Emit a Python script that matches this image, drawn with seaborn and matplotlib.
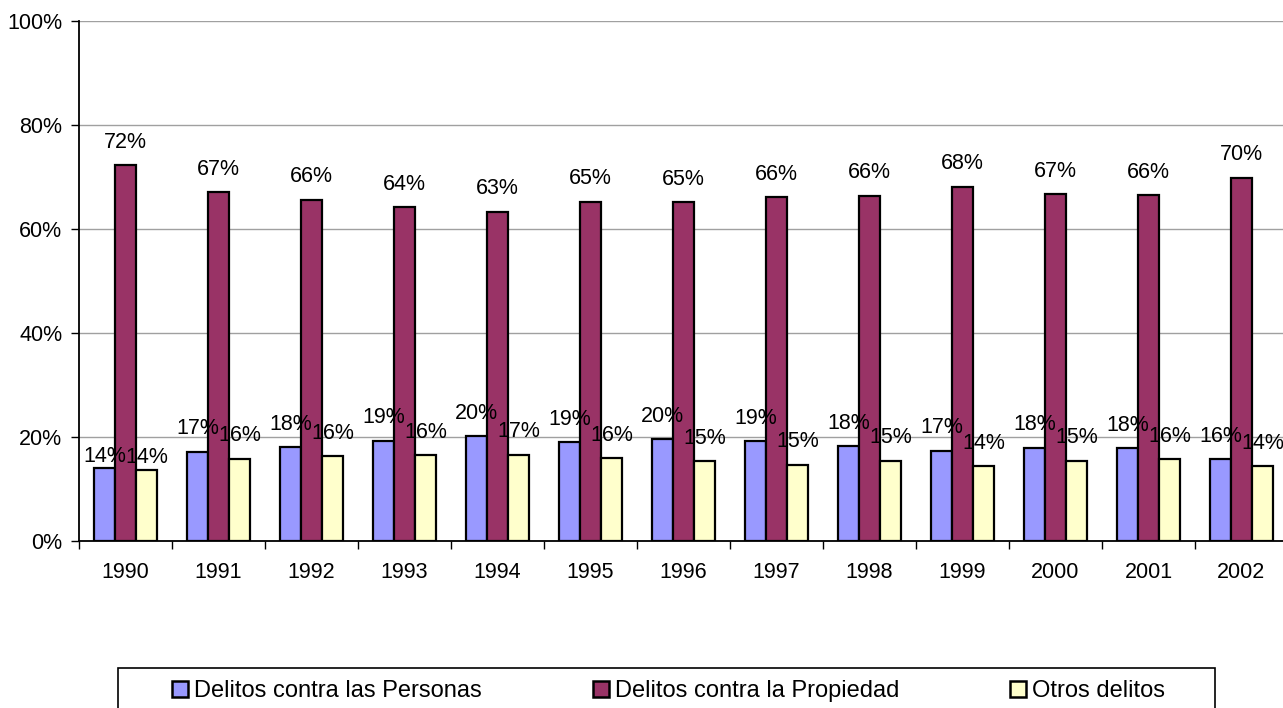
import matplotlib
matplotlib.use("Agg")
import matplotlib.pyplot as plt
import seaborn as sns
import pandas as pd
import numpy as np
from matplotlib.ticker import FixedLocator, PercentFormatter
from matplotlib.patches import Rectangle

years = ["1990", "1991", "1992", "1993", "1994", "1995", "1996",
         "1997", "1998", "1999", "2000", "2001", "2002"]
personas = [14.0, 17.2, 18.0, 19.3, 20.1, 19.0, 19.6, 19.2, 18.2, 17.4, 17.9, 17.8, 15.7]
propiedad = [72.3, 67.1, 65.6, 64.2, 63.3, 65.2, 65.1, 66.1, 66.4, 68.1, 66.7, 66.5, 69.9]
otros = [13.7, 15.8, 16.3, 16.5, 16.6, 15.9, 15.3, 14.7, 15.4, 14.4, 15.4, 15.7, 14.4]
series_names = ["Delitos contra las Personas", "Delitos contra la Propiedad", "Otros delitos"]
colors = ["#9999FF", "#993366", "#FFFFCC"]

rows = []
for name, vals in zip(series_names, [personas, propiedad, otros]):
    for y, v in zip(years, vals):
        rows.append({"Año": y, "Serie": name, "Valor": v})
df = pd.DataFrame(rows)

sns.set_theme(style="white")
plt.rcParams["font.family"] = ["Liberation Sans", "DejaVu Sans"]
plt.rcParams["text.color"] = "black"

fig = plt.figure(figsize=(12.83, 7.08), dpi=100)
ax = fig.add_axes([79 / 1283, 1 - 541 / 708, 1209 / 1283, 520 / 708])

sns.barplot(data=df, x="Año", y="Valor", hue="Serie", hue_order=series_names,
            palette=colors, width=0.68, edgecolor="black", linewidth=1.6,
            saturation=1, ax=ax, legend=True)

LBL = 15.5
for k, cont in enumerate(ax.containers):
    vals = [b.get_height() for b in cont]
    main_labels = ["" if i == 0 else f"{round(v)}%" for i, v in enumerate(vals)]
    first_labels = [f"{round(v)}%" if i == 0 else "" for i, v in enumerate(vals)]
    ax.bar_label(cont, labels=main_labels, padding=9, fontsize=LBL, color="black")
    pad_first = 9 if k == 1 else 1
    ax.bar_label(cont, labels=first_labels, padding=pad_first, fontsize=LBL,
                 color="black")

ax.set_ylim(0, 100)
ax.set_xlim(-0.5, 12.5)
ax.yaxis.set_major_locator(FixedLocator([0, 20, 40, 60, 80, 100]))
ax.yaxis.set_major_formatter(PercentFormatter(decimals=0))
ax.grid(axis="y", color="#A0A0A0", linewidth=1)
ax.set_axisbelow(True)
ax.set_xlabel("")
ax.set_ylabel("")

ax.xaxis.set_minor_locator(FixedLocator(np.arange(-0.5, 13, 1)))
ax.tick_params(axis="x", which="major", length=0, pad=15, labelsize=LBL, colors="black")
ax.tick_params(axis="x", which="minor", bottom=True, length=6, width=1, color="black")
ax.tick_params(axis="y", left=True, length=6, width=1, color="black", pad=6,
               labelsize=LBL, labelcolor="black")

for s in ["top", "right"]:
    ax.spines[s].set_visible(False)
for s in ["left", "bottom"]:
    ax.spines[s].set_color("black")
    ax.spines[s].set_linewidth(1.3)

handles, labels = ax.get_legend_handles_labels()
ax.get_legend().remove()
ytext = 1 - 691 / 708
leg = fig.legend(handles, labels, loc="center left",
                 bbox_to_anchor=(172 / 1283, ytext - 0.02, 993 / 1283, 0.04),
                 mode="expand", ncol=3, fontsize=17, frameon=False,
                 handlelength=0.68, handleheight=0.68, labelcolor="black",
                 handletextpad=0.25, borderpad=0, borderaxespad=0)
for h in leg.legend_handles:
    h.set_edgecolor("black")
    h.set_linewidth(1.8)
fig.patches.append(Rectangle((118 / 1283, -0.05), 1097 / 1283, (1 - 668 / 708) + 0.05,
                             transform=fig.transFigure, fill=False,
                             edgecolor="black", linewidth=1.2))

fig.savefig("out.png", dpi=100)
